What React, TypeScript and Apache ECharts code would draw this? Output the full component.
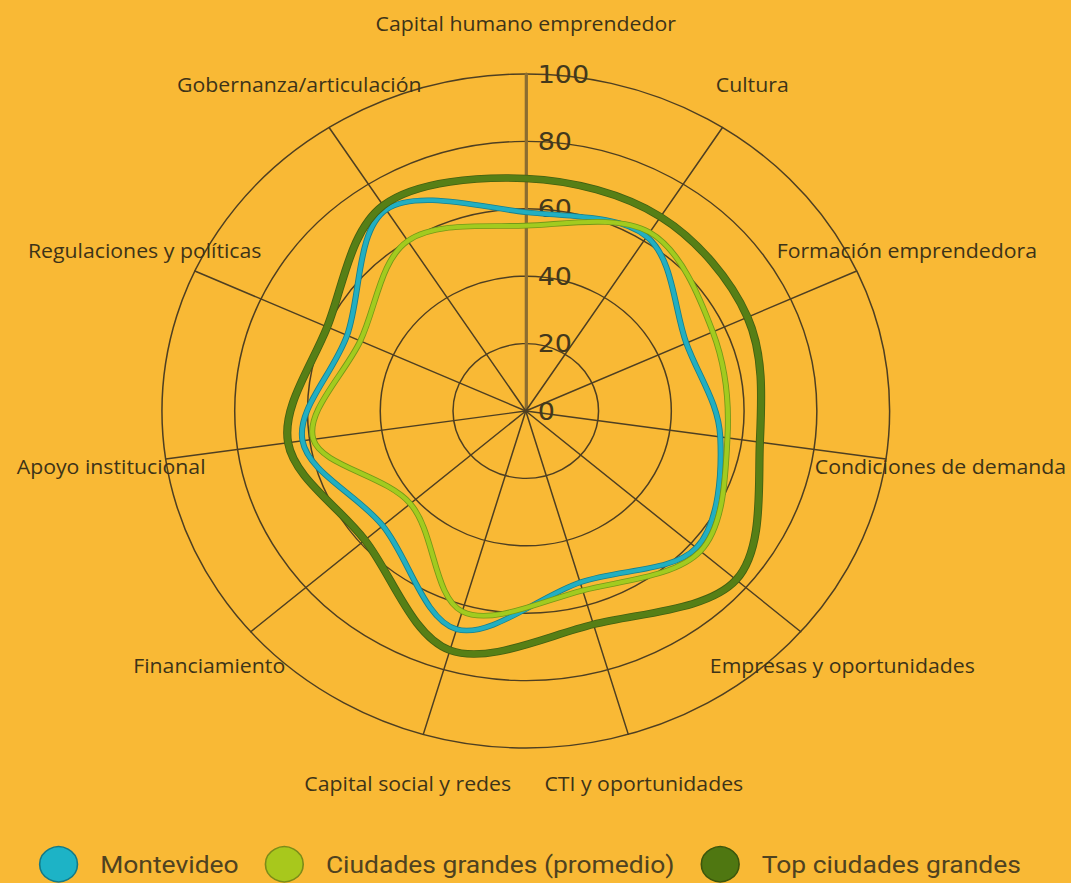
import React, { useEffect, useRef } from 'react';
import * as echarts from 'echarts';

const categories = [
  'Capital humano emprendedor',
  'Cultura',
  'Formación emprendedora',
  'Condiciones de demanda',
  'Empresas y oportunidades',
  'CTI y oportunidades',
  'Capital social y redes',
  'Financiamiento',
  'Apoyo institucional',
  'Regulaciones y políticas',
  'Gobernanza/articulación',
];
const seriesNames = ['Montevideo', 'Ciudades grandes (promedio)', 'Top ciudades grandes'];
const montevideo = [59, 61.5, 48.5, 54, 62, 53, 67.5, 52, 62, 54, 71];
const promedio = [55, 63, 56.5, 56, 63.5, 55.5, 62, 42, 59, 50, 60];
const topCiudades = [69, 68.5, 67, 65, 76.5, 66, 74, 58.5, 66, 60, 72.5];
const ticks = [0, 20, 40, 60, 80, 100];

const lineColors = ['#22AFC1', '#A2CB1F', '#567F16'];
const edgeColors = ['#177F8C', '#749818', '#435F10'];
const legendFill = ['#1DB3C6', '#A8C81C', '#4F7711'];
const legendEdge = ['#157A86', '#7C8C18', '#3C560C'];
const lineWidths = [4, 4, 6];

const W = 992;
const H = 883;
const CX = 487;
const CY = 411;
const R = 337;

function closedSpline(pts: number[][]): string {
  const n = pts.length;
  let d = `M${pts[0][0]},${pts[0][1]}`;
  for (let i = 0; i < n; i++) {
    const p0 = pts[(i - 1 + n) % n];
    const p1 = pts[i];
    const p2 = pts[(i + 1) % n];
    const p3 = pts[(i + 2) % n];
    const c1x = p1[0] + (p2[0] - p0[0]) / 6;
    const c1y = p1[1] + (p2[1] - p0[1]) / 6;
    const c2x = p2[0] - (p3[0] - p1[0]) / 6;
    const c2y = p2[1] - (p3[1] - p1[1]) / 6;
    d += ` C${c1x},${c1y} ${c2x},${c2y} ${p2[0]},${p2[1]}`;
  }
  return d + ' Z';
}

function makeSeries(name: string, values: number[], idx: number) {
  return {
    type: 'custom',
    name,
    coordinateSystem: 'polar',
    polarIndex: 0,
    z: 5 + idx,
    itemStyle: { color: legendFill[idx] },
    data: values.map((v, i) => [v, i]),
    renderItem: (params: any, api: any) => {
      if (params.dataIndex !== 0) return null;
      const pts = values.map((v, i) => api.coord([v, i]));
      const d = closedSpline(pts);
      return {
        type: 'group',
        children: [
          {
            type: 'path',
            shape: { pathData: d },
            style: { fill: 'none', stroke: edgeColors[idx], lineWidth: lineWidths[idx] + 1.6, lineJoin: 'round' },
          },
          {
            type: 'path',
            shape: { pathData: d },
            style: { fill: 'none', stroke: lineColors[idx], lineWidth: lineWidths[idx], lineJoin: 'round' },
          },
        ],
      };
    },
  };
}

export default function App() {
  const ref = useRef<HTMLDivElement>(null);
  useEffect(() => {
    if (!ref.current) return;
    const chart = echarts.init(ref.current, undefined, { renderer: 'svg', width: W, height: H });
    const n = categories.length;
    // ECharts radar runs counter-clockwise; reverse so that names run clockwise
    const order = categories.map((_, j) => (n - j) % n);
    const gridColor = '#4E3F22';
    const indicators = order.map((k, j) => {
      const base: any = { name: categories[k], min: ticks[0], max: ticks[ticks.length - 1] };
      if (j === 0) {
        base.axisLabel = {
          show: true,
          fontSize: 25,
          fontFamily: 'DejaVu Sans',
          color: '#43381C',
          margin: -11,
          align: 'left',
        };
        base.axisLine = { lineStyle: { color: '#8C6D30', width: 3 } };
      }
      return base;
    });
    const seriesData = [montevideo, promedio, topCiudades];
    chart.setOption({
      animation: false,
      backgroundColor: 'transparent',
      radar: {
        center: [CX, CY],
        radius: R,
        startAngle: 90,
        shape: 'circle',
        splitNumber: ticks.length - 1,
        indicator: indicators,
        axisName: {
          color: '#3D3318',
          fontSize: 19.7,
          fontFamily: 'Open Sans',
          align: 'center',
          verticalAlign: 'middle',
        },
        axisNameGap: 51,
        splitLine: { lineStyle: { color: gridColor, width: 1.4 } },
        splitArea: { show: false },
        axisLine: { lineStyle: { color: gridColor, width: 1.4 } },
        axisLabel: { show: false },
        axisTick: { show: false },
      },
      polar: { center: [CX, CY], radius: R },
      angleAxis: { type: 'value', min: 0, max: n, interval: 1, startAngle: 90, clockwise: true, show: false },
      radiusAxis: { type: 'value', min: ticks[0], max: ticks[ticks.length - 1], show: false },
      legend: {
        top: 841,
        left: 31,
        icon: 'circle',
        itemWidth: 35,
        itemHeight: 35,
        itemGap: 24,
        textStyle: {
          fontFamily: 'Roboto',
          fontSize: 24.5,
          color: '#4F4220',
          padding: [0, 0, 0, 16],
        },
        data: seriesNames.map((nm, i) => ({
          name: nm,
          itemStyle: { color: legendFill[i], borderColor: legendEdge[i], borderWidth: 1.5 },
        })),
      },
      series: seriesNames.map((nm, i) => makeSeries(nm, seriesData[i], i)),
    });
    return () => chart.dispose();
  }, []);
  return (
    <div
      style={{
        position: 'fixed',
        left: 0,
        top: 0,
        width: 1071,
        height: 883,
        background: '#F9B935',
        overflow: 'hidden',
      }}
    >
      <div
        ref={ref}
        style={{ width: W, height: H, transform: `scaleX(${1071 / W})`, transformOrigin: '0 0' }}
      />
    </div>
  );
}
